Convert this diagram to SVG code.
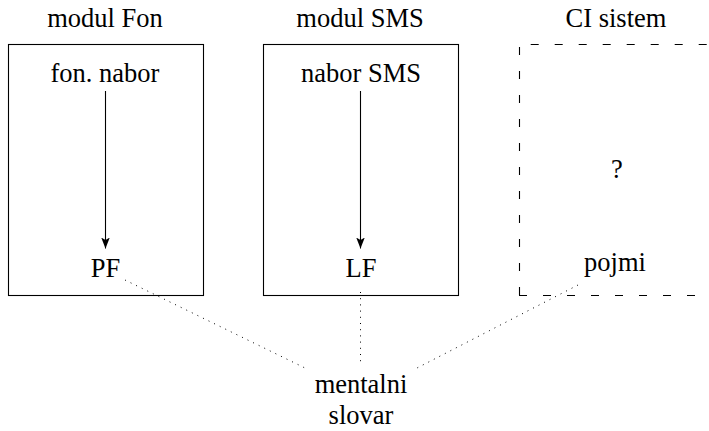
<svg xmlns="http://www.w3.org/2000/svg" width="709" height="431" viewBox="0 0 709 431">
  <style>
    text { font-family: 'Liberation Serif', 'DejaVu Serif', serif; font-size: 26.5px; fill: #000; text-anchor: middle; }
    .box { fill: none; stroke: #000; stroke-width: 1.1; }
    .dash { fill: none; stroke: #000; stroke-width: 1.1; stroke-dasharray: 8 16; }
    .arrow { fill: none; stroke: #000; stroke-width: 1.1; marker-end: url(#head); }
    .dot { fill: none; stroke: #000; stroke-width: 1; stroke-dasharray: 1 5.2; }
  </style>
  <defs>
    <marker id="head" markerWidth="12" markerHeight="12" viewBox="-11 -5 12 10" refX="0" refY="0" orient="auto" markerUnits="userSpaceOnUse">
      <path d="M0,0 L-11,-4.3 L-8.5,0 L-11,4.3 Z" fill="#000"/>
    </marker>
  </defs>

  <!-- module headings -->
  <text x="105" y="27">modul Fon</text>
  <text x="360" y="27">modul SMS</text>
  <text x="616" y="27">CI sistem</text>

  <g id="modul-fon">
    <rect class="box" x="8.5" y="44.5" width="195" height="251"/>
    <text x="105" y="82">fon. nabor</text>
    <text x="105.5" y="277">PF</text>
  </g>

  <g id="modul-sms">
    <rect class="box" x="263.5" y="44.5" width="195" height="251"/>
    <text x="361" y="82">nabor SMS</text>
    <text x="361" y="277">LF</text>
  </g>

  <g id="ci-sistem">
    <line class="dash" x1="519" y1="44.5" x2="720" y2="44.5" stroke-dashoffset="12.3"/>
    <line class="dash" x1="519.5" y1="295" x2="519.5" y2="44"/>
    <line class="dash" x1="519" y1="295.5" x2="720" y2="295.5"/>
    <text x="617" y="178">?</text>
    <text x="615" y="271">pojmi</text>
  </g>

  <g id="mentalni-slovar">
    <text x="361" y="393">mentalni</text>
    <text x="361" y="424">slovar</text>
  </g>

  <g id="connectors">
    <line class="arrow" x1="105.5" y1="91" x2="105.5" y2="248.5"/>
    <line class="arrow" x1="360.5" y1="91" x2="360.5" y2="248.5"/>
    <line class="dot" x1="125" y1="280" x2="305" y2="368"/>
    <line class="dot" x1="360.5" y1="292" x2="360.5" y2="364"/>
    <line class="dot" x1="578" y1="285" x2="417" y2="368"/>
  </g>
</svg>
